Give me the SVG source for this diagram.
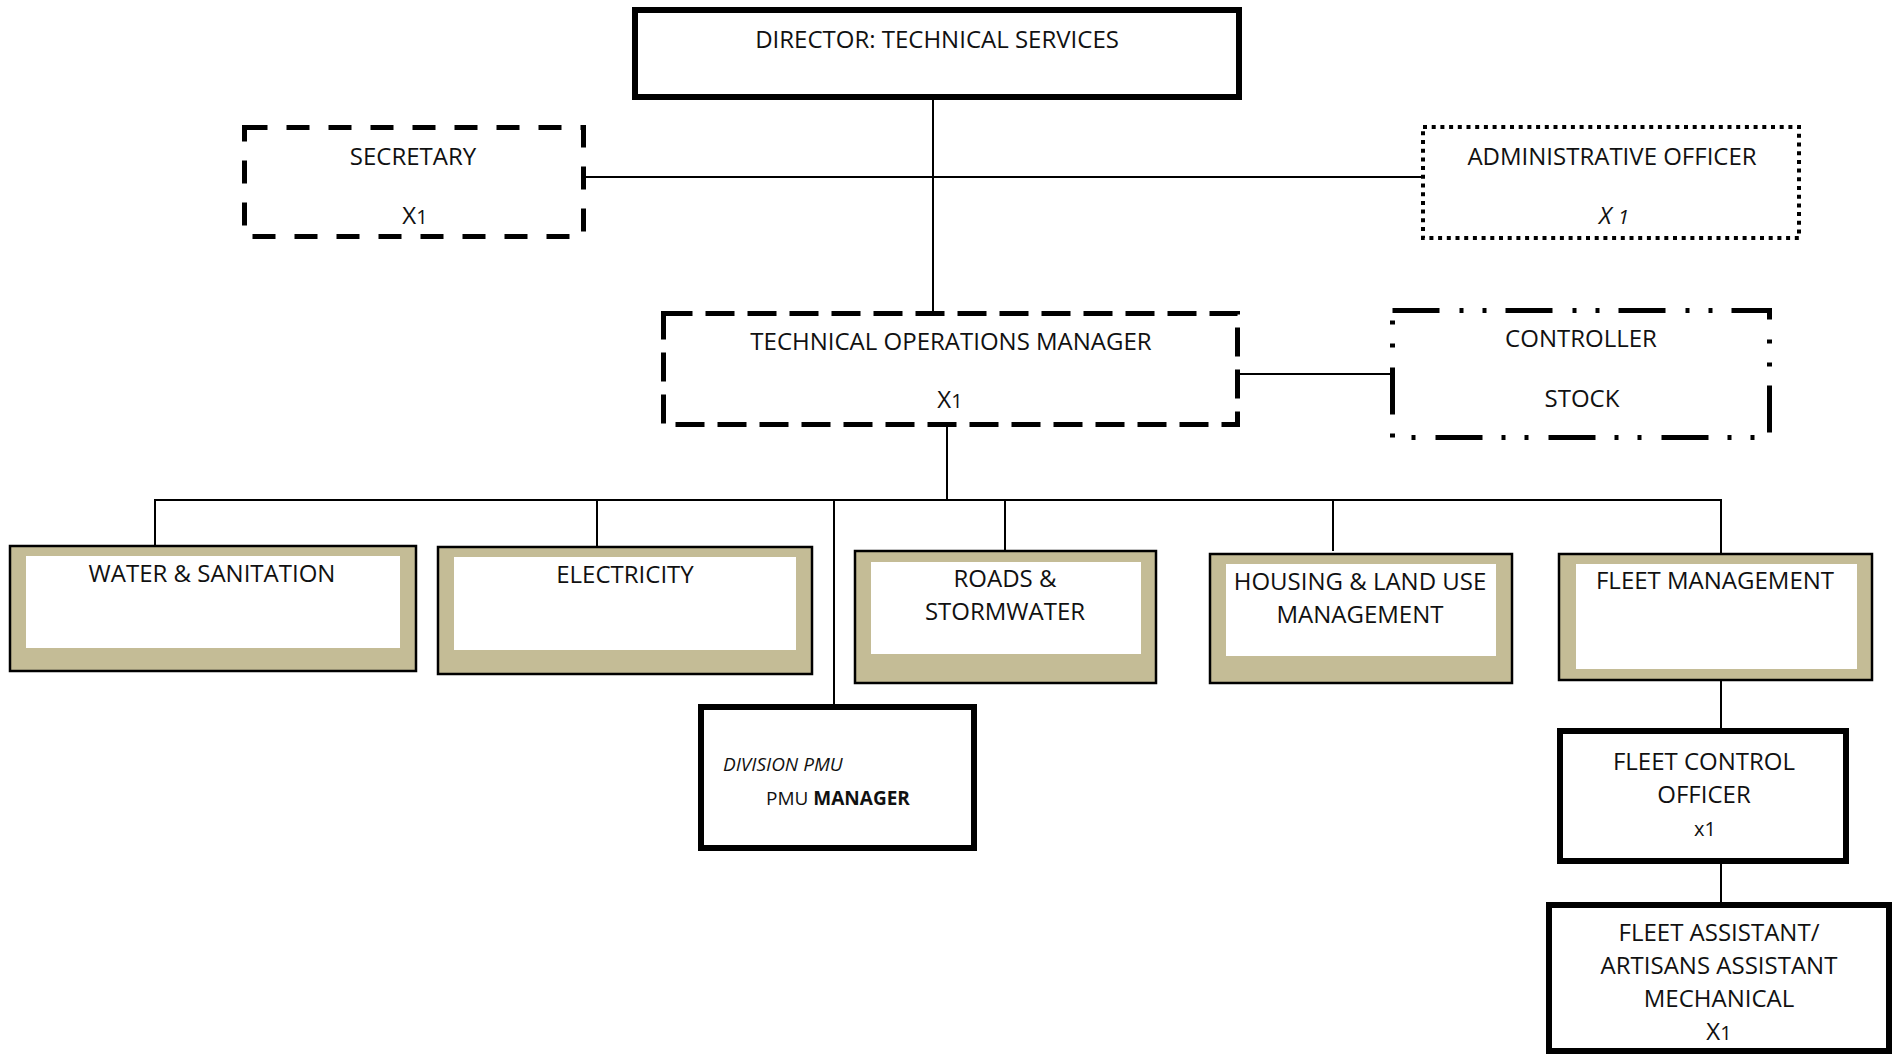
<svg xmlns="http://www.w3.org/2000/svg" width="1898" height="1056" viewBox="0 0 1898 1056">
<style>
text{font-family:"Open Sans","Liberation Sans",sans-serif;font-size:24px;fill:#111;text-anchor:middle}
text.pmu{font-size:19px;text-anchor:start}
text.it{font-style:italic}
.box{fill:#fff;stroke:#000}
.solid{stroke-width:6}
.dash{stroke-width:5;stroke-dasharray:23 19}
.dash2{stroke-width:5;stroke-dasharray:29 13}
.dot{stroke-width:4;stroke-dasharray:4 4.7}
.dashdot{stroke-width:5;stroke-dasharray:47 20 4 19 4 19}
.tan{fill:#c4bc96;stroke:#000;stroke-width:2.5}
.inner{fill:#fff}
.conn line{stroke:#000;stroke-width:2}
.sm{font-size:20px}
text.sm{font-size:20px}
.b{font-weight:bold}
</style>
<g class="conn" id="connectors">
<line x1="933" y1="99" x2="933" y2="311"/>
<line x1="585" y1="177" x2="1421" y2="177"/>
<line x1="1240" y1="374" x2="1391" y2="374"/>
<line x1="947" y1="427" x2="947" y2="500"/>
<line x1="154" y1="500" x2="1722" y2="500"/>
<line x1="155" y1="500" x2="155" y2="546"/>
<line x1="597" y1="500" x2="597" y2="547"/>
<line x1="834" y1="500" x2="834" y2="704"/>
<line x1="1005" y1="500" x2="1005" y2="551"/>
<line x1="1333" y1="500" x2="1333" y2="551"/>
<line x1="1721" y1="500" x2="1721" y2="554"/>
<line x1="1721" y1="681" x2="1721" y2="728"/>
<line x1="1721" y1="864" x2="1721" y2="902"/>
</g>
<g id="director">
<rect class="box solid" x="635" y="10" width="604" height="87"/>
<text x="937" y="48">DIRECTOR: TECHNICAL SERVICES</text>
</g>
<g id="secretary">
<rect class="box dash" x="244.5" y="127.5" width="339" height="109"/>
<text x="413" y="165">SECRETARY</text>
<text x="415" y="224">X<tspan class="sm">1</tspan></text>
</g>
<g id="admin-officer">
<rect class="box dot" x="1423" y="127" width="376" height="111"/>
<text x="1612" y="165">ADMINISTRATIVE OFFICER</text>
<text class="it" x="1614" y="224">X <tspan class="sm">1</tspan></text>
</g>
<g id="tech-ops-manager">
<rect class="box dash2" x="663.5" y="313.5" width="574" height="111"/>
<text x="951" y="350">TECHNICAL OPERATIONS MANAGER</text>
<text x="950" y="408">X<tspan class="sm">1</tspan></text>
</g>
<g id="controller-stock">
<rect class="box dashdot" x="1392.5" y="310.5" width="377" height="127"/>
<text x="1581" y="347">CONTROLLER</text>
<text x="1582" y="407">STOCK</text>
</g>
<g id="water-sanitation">
<rect class="tan" x="10" y="546" width="406" height="125"/>
<rect class="inner" x="26" y="556" width="374" height="92"/>
<text x="212" y="582">WATER &amp; SANITATION</text>
</g>
<g id="electricity">
<rect class="tan" x="438" y="547" width="374" height="127"/>
<rect class="inner" x="454" y="557" width="342" height="93"/>
<text x="625" y="583">ELECTRICITY</text>
</g>
<g id="roads-stormwater">
<rect class="tan" x="855" y="551" width="301" height="132"/>
<rect class="inner" x="871" y="562" width="270" height="92"/>
<text x="1005" y="587">ROADS &amp;</text>
<text x="1005" y="620">STORMWATER</text>
</g>
<g id="housing">
<rect class="tan" x="1210" y="554" width="302" height="129"/>
<rect class="inner" x="1226" y="564" width="270" height="92"/>
<text x="1360" y="590">HOUSING &amp; LAND USE</text>
<text x="1360" y="623">MANAGEMENT</text>
</g>
<g id="fleet-management">
<rect class="tan" x="1559" y="554" width="313" height="126"/>
<rect class="inner" x="1576" y="564" width="281" height="105"/>
<text x="1715" y="589">FLEET MANAGEMENT</text>
</g>
<g id="division-pmu">
<rect class="box solid" x="701" y="707" width="273" height="141"/>
<text class="pmu it" x="723" y="771">DIVISION PMU</text>
<text class="pmu" x="766" y="805">PMU <tspan class="b">MANAGER</tspan></text>
</g>
<g id="fleet-control-officer">
<rect class="box solid" x="1560" y="731" width="286" height="130"/>
<text x="1704" y="770">FLEET CONTROL</text>
<text x="1704" y="803">OFFICER</text>
<text class="sm" x="1705" y="836">x1</text>
</g>
<g id="fleet-assistant">
<rect class="box solid" x="1549" y="905" width="340" height="146"/>
<text x="1719" y="941">FLEET ASSISTANT/</text>
<text x="1719" y="974">ARTISANS ASSISTANT</text>
<text x="1719" y="1007">MECHANICAL</text>
<text x="1719" y="1040">X<tspan class="sm">1</tspan></text>
</g>
</svg>
